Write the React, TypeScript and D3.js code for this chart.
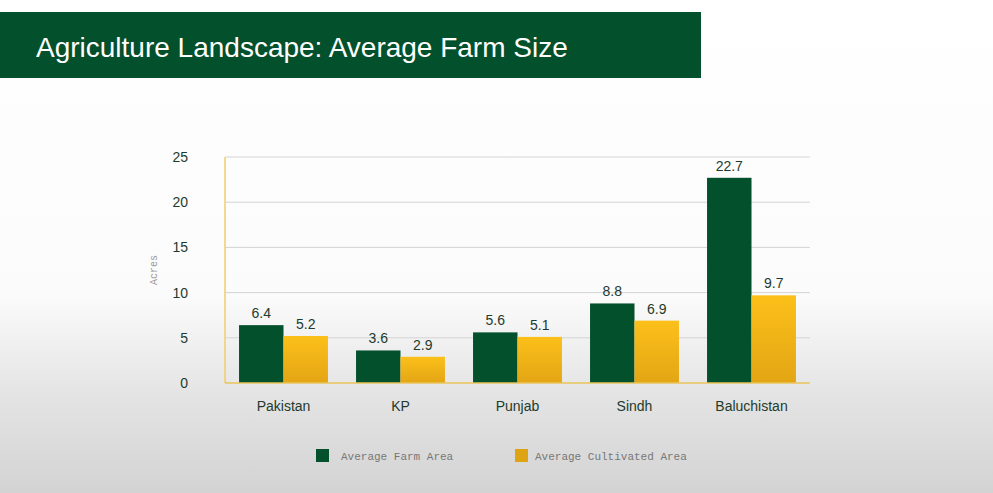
import * as d3 from "d3";

const categories = ["Pakistan", "KP", "Punjab", "Sindh", "Baluchistan"];
const farmArea = [6.4, 3.6, 5.6, 8.8, 22.7];
const cultivatedArea = [5.2, 2.9, 5.1, 6.9, 9.7];
const yTicks = [0, 5, 10, 15, 20, 25];
const seriesNames = ["Average Farm Area", "Average Cultivated Area"];

export default function App() {
  const W = 993, H = 493;
  const left = 225, right = 810, top = 157, bottom = 383;
  const x = d3.scaleBand<string>().domain(categories).range([left, right]).paddingInner(0.24).paddingOuter(0.12);
  const y = d3.scaleLinear().domain([0, 25]).range([bottom, top]);
  const bw = x.bandwidth() / 2;
  const green = "#03502c";
  const font = "'Liberation Sans', Arial, sans-serif";
  const mono = "'Liberation Mono', monospace";

  return (
    <svg width={W} height={H} style={{ position: "absolute", left: 0, top: 0 }}>
      <defs>
        <linearGradient id="bg" x1="0" y1="0" x2="0" y2="1">
          <stop offset="0" stopColor="#ffffff" />
          <stop offset="0.6" stopColor="#fbfbfb" />
          <stop offset="0.8" stopColor="#e4e4e4" />
          <stop offset="1" stopColor="#d3d3d3" />
        </linearGradient>
        <linearGradient id="yel" x1="0" y1="0" x2="0" y2="1">
          <stop offset="0" stopColor="#fcc01a" />
          <stop offset="1" stopColor="#e3a514" />
        </linearGradient>
      </defs>
      <rect width={W} height={H} fill="url(#bg)" />
      <rect x={0} y={12} width={701} height={66} fill={green} />
      <text x={36} y={57} fill="#fff" fontFamily={font} fontSize={28}>Agriculture Landscape: Average Farm Size</text>

      {yTicks.map(t => (
        <g key={t}>
          {t > 0 && <line x1={left} x2={right} y1={y(t)} y2={y(t)} stroke="#d4d4d4" />}
          <text x={188} y={y(t) + 5} textAnchor="end" fontFamily={font} fontSize={14} fill="#1e3a2c">{t}</text>
        </g>
      ))}
      <text transform={`translate(157,${(top + bottom) / 2}) rotate(-90)`} textAnchor="middle"
        fontFamily={mono} fontSize={10} fill="#9a9a9a">Acres</text>

      {categories.map((c, i) => {
        const x0 = x(c)!;
        return (
          <g key={c}>
            <rect x={x0} y={y(farmArea[i])} width={bw} height={bottom - y(farmArea[i])} fill={green} />
            <rect x={x0 + bw} y={y(cultivatedArea[i])} width={bw} height={bottom - y(cultivatedArea[i])} fill="url(#yel)" />
            <text x={x0 + bw / 2} y={y(farmArea[i]) - 7} textAnchor="middle" fontFamily={font} fontSize={14} fill="#1e3a2c">{farmArea[i]}</text>
            <text x={x0 + bw * 1.5} y={y(cultivatedArea[i]) - 7} textAnchor="middle" fontFamily={font} fontSize={14} fill="#1e3a2c">{cultivatedArea[i]}</text>
            <text x={x0 + bw} y={411} textAnchor="middle" fontFamily={font} fontSize={14} fill="#1e3a2c">{c}</text>
          </g>
        );
      })}
      <line x1={left} x2={left} y1={top} y2={bottom} stroke="#f0cd6a" strokeWidth={1.5} />
      <line x1={left} x2={right} y1={bottom} y2={bottom} stroke="#e8c45a" strokeWidth={1.5} />

      <rect x={316} y={449} width={13} height={13} fill={green} />
      <text x={341} y={460} fontFamily={mono} fontSize={11} fill="#777">{seriesNames[0]}</text>
      <rect x={515} y={449} width={13} height={13} fill="#dea414" />
      <text x={535} y={460} fontFamily={mono} fontSize={11} fill="#777">{seriesNames[1]}</text>
    </svg>
  );
}
